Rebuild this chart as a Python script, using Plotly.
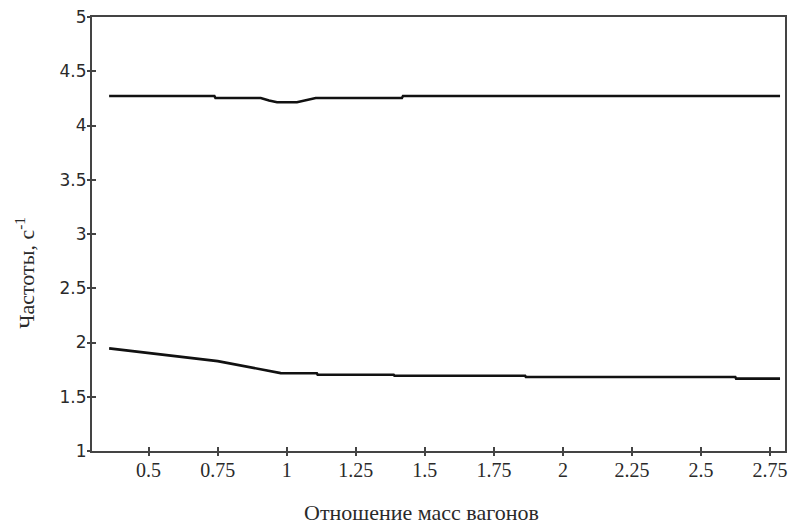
import plotly.graph_objects as go

# Upper frequency branch
upper_x = [0.357, 0.738, 0.742, 0.906, 0.936, 0.965, 1.037, 1.081, 1.105, 1.417, 1.421, 2.786]
upper_y = [4.272, 4.272, 4.253, 4.253, 4.230, 4.214, 4.214, 4.235, 4.253, 4.253, 4.272, 4.272]

# Lower frequency branch
lower_x = [0.357, 0.75, 0.978, 1.109, 1.112, 1.387, 1.390, 1.863, 1.866, 2.624, 2.627, 2.786]
lower_y = [1.946, 1.828, 1.718, 1.716, 1.703, 1.703, 1.694, 1.694, 1.682, 1.682, 1.667, 1.667]

x_ticks = [0.5, 0.75, 1, 1.25, 1.5, 1.75, 2, 2.25, 2.5, 2.75]
x_tick_labels = ["0.5", "0.75", "1", "1.25", "1.5", "1.75", "2", "2.25", "2.5", "2.75"]
y_ticks = [1, 1.5, 2, 2.5, 3, 3.5, 4, 4.5, 5]
y_tick_labels = ["1", "1.5", "2", "2.5", "3", "3.5", "4", "4.5", "5"]

x_title = "Отношение масс вагонов"
y_title = "Частоты, с<sup>-1</sup>"

X_RANGE = [0.295, 2.804]
Y_RANGE = [1, 5]
AXIS_COLOR = "#444444"
TEXT_COLOR = "#2a2a2a"

fig = go.Figure()
for xs, ys in [(upper_x, upper_y), (lower_x, lower_y)]:
    fig.add_trace(go.Scatter(x=xs, y=ys, mode="lines",
                             line=dict(color="#111111", width=2.6),
                             showlegend=False, hoverinfo="skip"))

# empty trace on overlay axes so their ticks render
fig.add_trace(go.Scatter(x=[None], y=[None], xaxis="x2", yaxis="y2",
                         showlegend=False, hoverinfo="skip"))

fig.update_layout(
    width=795, height=525,
    margin=dict(l=92, r=7, t=17, b=74),
    paper_bgcolor="white", plot_bgcolor="white",
    xaxis=dict(range=X_RANGE, tickvals=x_ticks, ticktext=x_tick_labels,
               showgrid=False, zeroline=False, showline=True, mirror=True,
               linecolor=AXIS_COLOR, linewidth=2,
               ticks="inside", ticklen=4, tickwidth=2, tickcolor=AXIS_COLOR,
               tickfont=dict(family="Liberation Serif", size=20, color=TEXT_COLOR)),
    yaxis=dict(range=Y_RANGE, tickvals=y_ticks, ticktext=y_tick_labels,
               showgrid=False, zeroline=False, showline=True, mirror=True,
               linecolor=AXIS_COLOR, linewidth=2,
               ticks="inside", ticklen=4, tickwidth=2, tickcolor=AXIS_COLOR,
               tickfont=dict(family="DejaVu Sans", size=17, color=TEXT_COLOR)),
    xaxis2=dict(range=X_RANGE, overlaying="x", tickvals=x_ticks, showticklabels=False,
                showgrid=False, zeroline=False, showline=False,
                ticks="outside", ticklen=4, tickwidth=2, tickcolor=AXIS_COLOR),
    yaxis2=dict(range=Y_RANGE, overlaying="y", tickvals=y_ticks, showticklabels=False,
                showgrid=False, zeroline=False, showline=False,
                ticks="outside", ticklen=4, tickwidth=2, tickcolor=AXIS_COLOR),
    annotations=[
        dict(text=x_title, xref="paper", yref="paper", x=0.476, y=-0.142,
             xanchor="center", yanchor="middle", showarrow=False,
             font=dict(family="Liberation Serif", size=22, color=TEXT_COLOR)),
        dict(text=y_title, xref="paper", yref="paper", x=-0.097, y=0.41,
             xanchor="center", yanchor="middle", showarrow=False, textangle=-90,
             font=dict(family="Liberation Serif", size=22, color=TEXT_COLOR)),
    ],
)

fig.write_html("out.html", config={"displayModeBar": False},
               post_script="document.body.style.margin='0';")
